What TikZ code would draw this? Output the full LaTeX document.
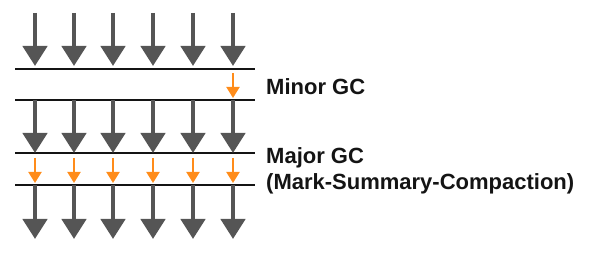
\documentclass[tikz,border=0pt]{standalone}
\usepackage{fontspec}
\setmainfont{Liberation Sans}
\usepackage{tikz}
\usetikzlibrary{arrows.meta}
\definecolor{mygray}{RGB}{85,85,85}
\definecolor{myorange}{RGB}{255,140,26}
\definecolor{mydark}{RGB}{20,20,20}
\tikzset{
  bigarrow/.style={-{Triangle[width=24pt,length=20pt]}, line width=4.5pt, color=mygray},
  gcarrow/.style={-{Triangle[width=13pt,length=11pt]}, line width=2pt, color=myorange},
  divider/.style={line width=1.6pt, color=mydark},
  label/.style={anchor=west, font=\fontsize{22}{25}\selectfont\bfseries, color=mydark, inner sep=0pt}
}
\begin{document}
\begin{tikzpicture}[x=1pt,y=-1pt]
  \useasboundingbox (0,0) rectangle (592,253);
  % ── dividers ─────────────────────────────────────────────────────────────
  \foreach \y/\name in {69/l1, 100/l2, 153/l3, 185/l4} {
    \coordinate (\name w) at (15,\y);
    \coordinate (\name e) at (255,\y);
    \draw[divider] (\name w)--(\name e);
  }
  % ── big allocation arrows ────────────────────────────────────────────────
  \foreach \x in {35,74,113,153,193,233} {
    \draw[bigarrow] (\x,13)--(\x,66);
    \draw[bigarrow] (\x,100)--(\x,153);
    \draw[bigarrow] (\x,185)--(\x,239);
  }
  % ── minor GC (single) ────────────────────────────────────────────────────
  \draw[gcarrow] (233,73)--(233,98);
  % ── major GC (all) ───────────────────────────────────────────────────────
  \foreach \x in {35,74,113,153,193,233}
    \draw[gcarrow] (\x,158)--(\x,183);
  % labels
  \node[label] (minor) at (266,87) {Minor GC};
  \node[label] (major) at (266,158) {Major GC};
  \node[label] (mark) at (266,184) {(Mark-Summary-Compaction)};
\end{tikzpicture}
\end{document}
